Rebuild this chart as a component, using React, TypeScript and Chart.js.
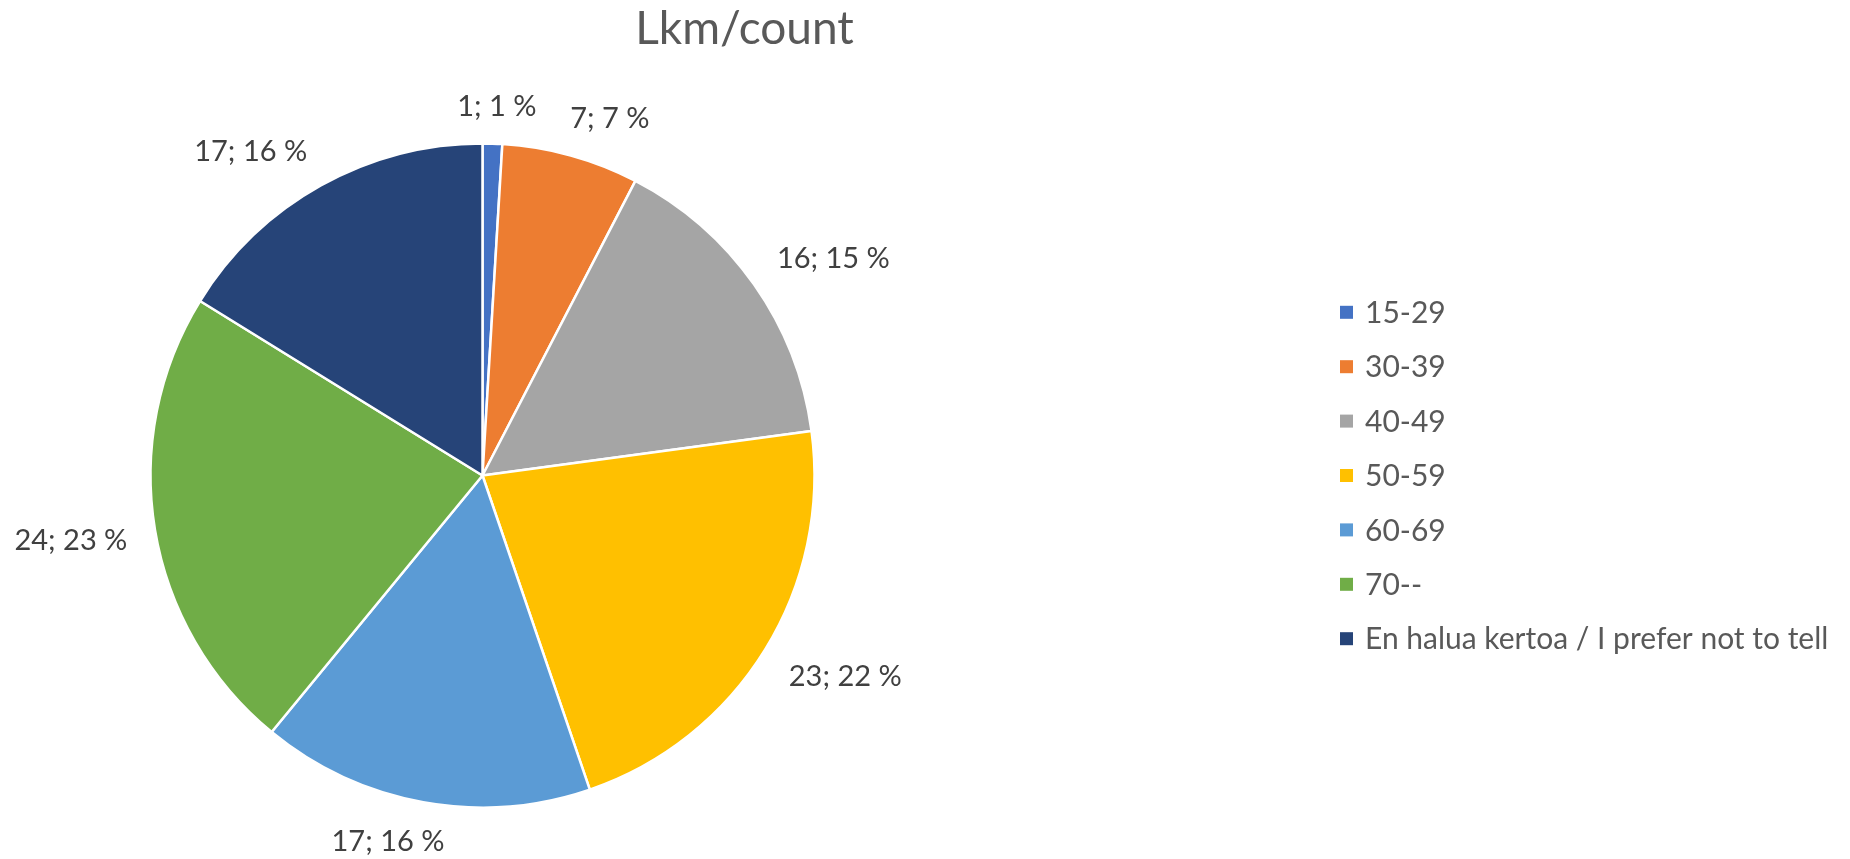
import React, { useEffect, useRef } from "react";
import { Chart, registerables } from "chart.js";

Chart.register(...registerables);

const TITLE = "Lkm/count";
const categories = [
  "15-29",
  "30-39",
  "40-49",
  "50-59",
  "60-69",
  "70--",
  "En halua kertoa / I prefer not to tell",
];
const counts = [1, 7, 16, 23, 17, 24, 17];
const colors = ["#4472C4", "#ED7D31", "#A5A5A5", "#FFC000", "#5B9BD5", "#70AD47", "#264478"];

const FONT = "Lato, 'Open Sans', sans-serif";
const W = 1850;
const H = 859;

const TITLE_SIZE = 46;
const TITLE_X = 744.5;
const TITLE_BASELINE = 43.5;
const LABEL_SIZE = 29;
const LABEL_GAP = 28;
const LABEL_SQUARE = 3;
const LEGEND_SIZE = 30;
const LEGEND_BOX_X = 1340;
const LEGEND_BOX = 13;
const LEGEND_TEXT_X = 1365;
const LEGEND_ROW = 54.4;
const CAP = 0.717;

const clamp = (v: number) => Math.max(-1, Math.min(1, v));

const decorPlugin = {
  id: "excelDecor",
  afterDraw(chart: any) {
    const ctx = chart.ctx as CanvasRenderingContext2D;
    ctx.save();

    // Title
    ctx.fillStyle = "#595959";
    ctx.font = `${TITLE_SIZE}px ${FONT}`;
    ctx.textAlign = "center";
    ctx.textBaseline = "alphabetic";
    ctx.fillText(TITLE, TITLE_X, TITLE_BASELINE);

    // Data labels (outside end)
    const data: number[] = chart.data.datasets[0].data;
    const total = data.reduce((a, b) => a + b, 0);
    const meta = chart.getDatasetMeta(0);
    ctx.font = `${LABEL_SIZE}px ${FONT}`;
    ctx.fillStyle = "#404040";
    ctx.textAlign = "center";
    const capH = LABEL_SIZE * CAP;
    meta.data.forEach((arc: any, i: number) => {
      const { x, y, startAngle, endAngle, outerRadius } = arc.getProps(
        ["x", "y", "startAngle", "endAngle", "outerRadius"],
        true
      );
      const mid = (startAngle + endAngle) / 2;
      const text = `${data[i]}; ${Math.round((data[i] / total) * 100)} %`;
      const w = ctx.measureText(text).width;
      const d = outerRadius + LABEL_GAP;
      const ux = Math.cos(mid);
      const uy = Math.sin(mid);
      const ax = x + ux * d;
      const ay = y + uy * d;
      const cx = ax + (clamp(ux * LABEL_SQUARE) * w) / 2;
      const cy = ay + (clamp(uy * LABEL_SQUARE) * capH) / 2;
      ctx.fillText(text, cx, cy + capH / 2);
    });

    // Legend
    const area = chart.chartArea;
    const centerY = (area.top + area.bottom) / 2;
    const labels: string[] = chart.data.labels;
    const bg: string[] = chart.data.datasets[0].backgroundColor;
    ctx.font = `${LEGEND_SIZE}px ${FONT}`;
    ctx.textAlign = "left";
    const lcap = LEGEND_SIZE * CAP;
    labels.forEach((lab, i) => {
      const yc = centerY + (i - (labels.length - 1) / 2) * LEGEND_ROW;
      ctx.fillStyle = bg[i];
      ctx.fillRect(LEGEND_BOX_X, yc - LEGEND_BOX / 2, LEGEND_BOX, LEGEND_BOX);
      ctx.fillStyle = "#595959";
      ctx.fillText(lab, LEGEND_TEXT_X, yc + lcap / 2);
    });

    ctx.restore();
  },
};

export default function App() {
  const ref = useRef<HTMLCanvasElement | null>(null);

  useEffect(() => {
    if (!ref.current) return;
    const chart = new Chart(ref.current, {
      type: "pie",
      data: {
        labels: categories,
        datasets: [
          {
            data: counts,
            backgroundColor: colors,
            borderColor: "#FFFFFF",
            borderWidth: 2.5,
            radius: 332,
          } as any,
        ],
      },
      options: {
        responsive: false,
        animation: false,
        devicePixelRatio: 1,
        layout: { padding: { left: 0, right: 885, top: 92, bottom: 0 } },
        plugins: {
          legend: { display: false },
          title: { display: false },
          tooltip: { enabled: false },
        },
        events: [],
      },
      plugins: [decorPlugin],
    });
    return () => chart.destroy();
  }, []);

  return (
    <div style={{ position: "absolute", left: 0, top: 0, width: W, height: H, background: "#fff" }}>
      <canvas ref={ref} width={W} height={H} style={{ width: W, height: H, display: "block" }} />
    </div>
  );
}
